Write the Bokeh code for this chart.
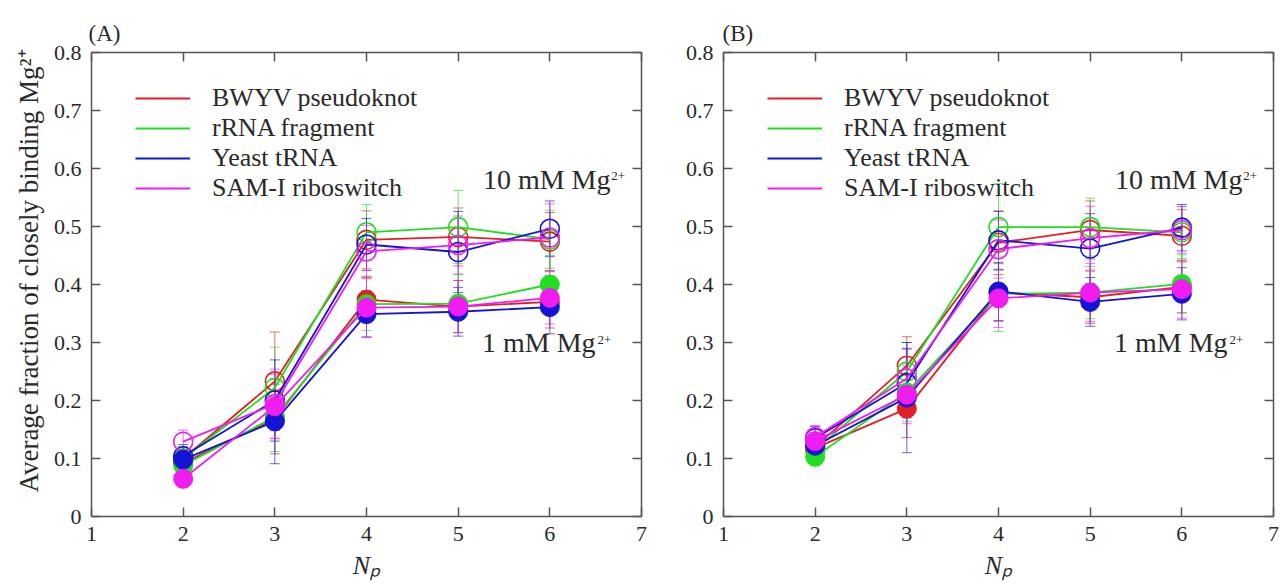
from bokeh.plotting import figure
from bokeh.models import (ColumnDataSource, Whisker, TeeHead, Label, Legend,
                          LegendItem, FixedTicker, LinearAxis, Range1d)
from bokeh.layouts import row
from bokeh.embed import file_html
from bokeh.resources import INLINE

# ---------------- data ----------------
NP = [2, 3, 4, 5, 6]
SERIES = ["BWYV pseudoknot", "rRNA fragment", "Yeast tRNA", "SAM-I riboswitch"]
COLORS = ["#e41e26", "#1ee01e", "#1414d6", "#f01cf0"]

X_TICKS = [1, 2, 3, 4, 5, 6, 7]
X_TICK_LABELS = ["1", "2", "3", "4", "5", "6", "7"]
Y_TICKS = [0, 0.1, 0.2, 0.3, 0.4, 0.5, 0.6, 0.7, 0.8]
Y_TICK_LABELS = ["0", "0.1", "0.2", "0.3", "0.4", "0.5", "0.6", "0.7", "0.8"]

# Panel A, 10 mM Mg2+ (open circles)
A_HIGH_BWYV = [0.100, 0.233, 0.477, 0.482, 0.474]
A_HIGH_RRNA = [0.100, 0.222, 0.490, 0.499, 0.478]
A_HIGH_TRNA = [0.104, 0.200, 0.469, 0.456, 0.496]
A_HIGH_SAM = [0.129, 0.194, 0.457, 0.468, 0.481]
A_HIGH_BWYV_ERR = [0.020, 0.085, 0.050, 0.050, 0.050]
A_HIGH_RRNA_ERR = [0.020, 0.070, 0.048, 0.063, 0.050]
A_HIGH_TRNA_ERR = [0.020, 0.070, 0.045, 0.070, 0.048]
A_HIGH_SAM_ERR = [0.020, 0.060, 0.045, 0.050, 0.058]

# Panel A, 1 mM Mg2+ (filled circles)
A_LOW_BWYV = [0.092, 0.168, 0.374, 0.362, 0.370]
A_LOW_RRNA = [0.088, 0.172, 0.366, 0.367, 0.400]
A_LOW_TRNA = [0.098, 0.164, 0.349, 0.353, 0.361]
A_LOW_SAM = [0.065, 0.190, 0.360, 0.362, 0.377]
A_LOW_BWYV_ERR = [0.015, 0.060, 0.040, 0.045, 0.045]
A_LOW_RRNA_ERR = [0.015, 0.060, 0.045, 0.050, 0.050]
A_LOW_TRNA_ERR = [0.015, 0.073, 0.040, 0.042, 0.046]
A_LOW_SAM_ERR = [0.015, 0.055, 0.050, 0.045, 0.045]

# Panel B, 10 mM Mg2+ (open circles)
B_HIGH_BWYV = [0.120, 0.260, 0.472, 0.494, 0.484]
B_HIGH_RRNA = [0.115, 0.250, 0.499, 0.499, 0.490]
B_HIGH_TRNA = [0.135, 0.230, 0.476, 0.462, 0.498]
B_HIGH_SAM = [0.137, 0.238, 0.461, 0.480, 0.494]
B_HIGH_BWYV_ERR = [0.020, 0.050, 0.055, 0.050, 0.045]
B_HIGH_RRNA_ERR = [0.020, 0.050, 0.075, 0.050, 0.045]
B_HIGH_TRNA_ERR = [0.020, 0.060, 0.050, 0.060, 0.040]
B_HIGH_SAM_ERR = [0.020, 0.050, 0.050, 0.055, 0.040]

# Panel B, 1 mM Mg2+ (filled circles)
B_LOW_BWYV = [0.118, 0.186, 0.386, 0.378, 0.396]
B_LOW_RRNA = [0.103, 0.214, 0.384, 0.386, 0.401]
B_LOW_TRNA = [0.122, 0.205, 0.388, 0.370, 0.384]
B_LOW_SAM = [0.130, 0.210, 0.376, 0.386, 0.392]
B_LOW_BWYV_ERR = [0.015, 0.050, 0.050, 0.045, 0.045]
B_LOW_RRNA_ERR = [0.015, 0.050, 0.065, 0.045, 0.050]
B_LOW_TRNA_ERR = [0.015, 0.095, 0.050, 0.042, 0.045]
B_LOW_SAM_ERR = [0.015, 0.050, 0.050, 0.050, 0.050]

A_HIGH = [A_HIGH_BWYV, A_HIGH_RRNA, A_HIGH_TRNA, A_HIGH_SAM]
A_HIGH_ERR = [A_HIGH_BWYV_ERR, A_HIGH_RRNA_ERR, A_HIGH_TRNA_ERR, A_HIGH_SAM_ERR]
A_LOW = [A_LOW_BWYV, A_LOW_RRNA, A_LOW_TRNA, A_LOW_SAM]
A_LOW_ERR = [A_LOW_BWYV_ERR, A_LOW_RRNA_ERR, A_LOW_TRNA_ERR, A_LOW_SAM_ERR]
B_HIGH = [B_HIGH_BWYV, B_HIGH_RRNA, B_HIGH_TRNA, B_HIGH_SAM]
B_HIGH_ERR = [B_HIGH_BWYV_ERR, B_HIGH_RRNA_ERR, B_HIGH_TRNA_ERR, B_HIGH_SAM_ERR]
B_LOW = [B_LOW_BWYV, B_LOW_RRNA, B_LOW_TRNA, B_LOW_SAM]
B_LOW_ERR = [B_LOW_BWYV_ERR, B_LOW_RRNA_ERR, B_LOW_TRNA_ERR, B_LOW_SAM_ERR]

FONT = "Liberation Serif"
FRAME = "#555555"
TXT = "#2a2a2a"


def style_axis(ax, ticks, labels, show_labels=True):
    ax.ticker = FixedTicker(ticks=ticks)
    ax.major_label_overrides = ({t: l for t, l in zip(ticks, labels)} if show_labels
                                else {t: "" for t in ticks})
    ax.major_tick_in = 9
    ax.major_tick_out = 0
    ax.minor_tick_line_color = None
    ax.major_tick_line_color = FRAME
    ax.major_tick_line_width = 1.5
    ax.axis_line_color = None
    ax.major_label_text_font = FONT
    ax.major_label_text_font_size = "22px" if show_labels else "0px"
    ax.major_label_text_color = TXT
    ax.major_label_standoff = 10 if show_labels else 0


def make_panel(tag, tag_offset, high, high_err, low, low_err, width, bl, br, ylabel):
    p = figure(width=width, height=583, x_range=Range1d(1, 7), y_range=Range1d(0, 0.8),
               output_backend="svg", toolbar_location=None,
               min_border_left=bl, min_border_right=br, min_border_top=52,
               min_border_bottom=67)
    p.grid.visible = False
    p.outline_line_color = FRAME
    p.outline_line_width = 1.5
    p.background_fill_color = "white"
    p.border_fill_color = "white"

    p.title.text = tag
    p.title.text_font = FONT
    p.title.text_font_size = "23px"
    p.title.text_font_style = "normal"
    p.title.text_color = TXT
    p.title.align = "left"
    p.title.offset = tag_offset
    p.title.standoff = 13

    xax = p.below[0]
    yax = p.left[0]
    style_axis(xax, X_TICKS, X_TICK_LABELS)
    style_axis(yax, Y_TICKS, Y_TICK_LABELS)
    top = LinearAxis()
    right = LinearAxis()
    style_axis(top, X_TICKS, X_TICK_LABELS, show_labels=False)
    style_axis(right, Y_TICKS, Y_TICK_LABELS, show_labels=False)
    p.add_layout(top, "above")
    p.add_layout(right, "right")

    xax.axis_label = "N\u209a"
    xax.axis_label_text_font = FONT
    xax.axis_label_text_font_style = "italic"
    xax.axis_label_text_font_size = "26px"
    xax.axis_label_text_color = TXT
    xax.axis_label_standoff = 7

    if ylabel:
        yax.axis_label = "\u00a0\u00a0\u00a0\u00a0Average fraction of closely binding Mg\u00b2\u207a"
        yax.axis_label_text_font = FONT
        yax.axis_label_text_font_style = "normal"
        yax.axis_label_text_font_size = "27px"
        yax.axis_label_text_color = TXT
        yax.axis_label_standoff = 7

    items = []
    for vals, errs, col, name in zip(high, high_err, COLORS, SERIES):
        src = ColumnDataSource(dict(x=NP, y=vals,
                                    up=[v + e for v, e in zip(vals, errs)],
                                    lo=[v - e for v, e in zip(vals, errs)]))
        p.add_layout(Whisker(source=src, base="x", upper="up", lower="lo",
                             line_color=col, line_width=1, line_alpha=0.65,
                             upper_head=TeeHead(size=10, line_color=col, line_alpha=0.65),
                             lower_head=TeeHead(size=10, line_color=col, line_alpha=0.65)))
        r = p.line("x", "y", source=src, line_color=col, line_width=1.8)
        p.scatter("x", "y", source=src, size=19, marker="circle", fill_color=None,
                  line_color=col, line_width=1.6)
        items.append(LegendItem(label=name, renderers=[r]))
    for vals, errs, col in zip(low, low_err, COLORS):
        src = ColumnDataSource(dict(x=NP, y=vals,
                                    up=[v + e for v, e in zip(vals, errs)],
                                    lo=[v - e for v, e in zip(vals, errs)]))
        p.add_layout(Whisker(source=src, base="x", upper="up", lower="lo",
                             line_color=col, line_width=1, line_alpha=0.65,
                             upper_head=TeeHead(size=10, line_color=col, line_alpha=0.65),
                             lower_head=TeeHead(size=10, line_color=col, line_alpha=0.65)))
        p.line("x", "y", source=src, line_color=col, line_width=1.8)
        p.scatter("x", "y", source=src, size=19, marker="circle", fill_color=col,
                  line_color=col, line_width=1)

    legend = Legend(items=items, location=(44, 313), margin=0, padding=0, spacing=0,
                    glyph_width=55, glyph_height=28, label_height=28, label_standoff=22,
                    label_text_font=FONT, label_text_font_size="26px",
                    label_text_color=TXT, background_fill_alpha=0,
                    border_line_color=None)
    p.add_layout(legend, "center")

    def lab(x, y, t, size):
        p.add_layout(Label(x=x, y=y, text=t, text_font=FONT, text_font_size=size,
                           text_color=TXT))

    lab(5.27, 0.555, "10 mM Mg", "28px")
    lab(6.67, 0.580, "2+", "13px")
    lab(5.26, 0.274, "1 mM Mg", "28px")
    lab(6.52, 0.298, "2+", "13px")
    return p


pA = make_panel("(A)", -3, A_HIGH, A_HIGH_ERR, A_LOW, A_LOW_ERR, 658, 91, 17, True)
pB = make_panel("(B)", -1, B_HIGH, B_HIGH_ERR, B_LOW, B_LOW_ERR, 625, 65, 10, False)

layout = row(pA, pB)
open("out.html", "w").write(file_html(layout, INLINE))
